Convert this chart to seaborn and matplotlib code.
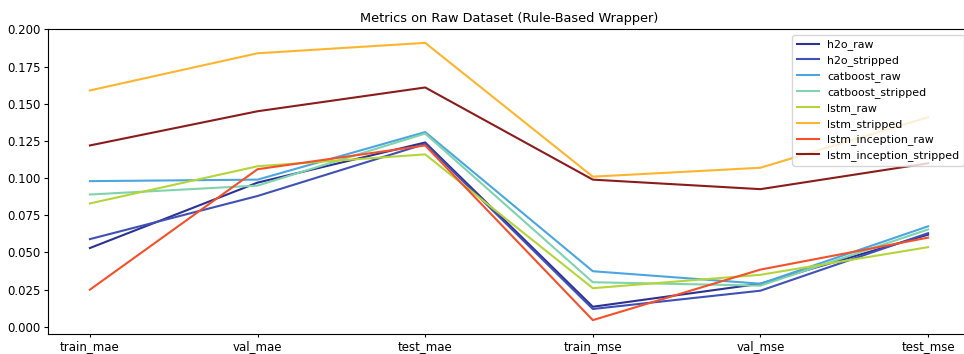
import matplotlib
matplotlib.use("Agg")
import matplotlib.pyplot as plt
import seaborn as sns
import pandas as pd

metrics = ["train_mae", "val_mae", "test_mae", "train_mse", "val_mse", "test_mse"]

h2o_raw = [0.053, 0.097, 0.124, 0.0135, 0.029, 0.062]
h2o_stripped = [0.059, 0.088, 0.123, 0.012, 0.0243, 0.063]
catboost_raw = [0.098, 0.099, 0.131, 0.0374, 0.029, 0.0676]
catboost_stripped = [0.089, 0.095, 0.130, 0.030, 0.0277, 0.0655]
lstm_raw = [0.083, 0.108, 0.116, 0.026, 0.035, 0.0536]
lstm_stripped = [0.159, 0.184, 0.191, 0.101, 0.107, 0.141]
lstm_inception_raw = [0.025, 0.106, 0.122, 0.0045, 0.0385, 0.060]
lstm_inception_stripped = [0.122, 0.145, 0.161, 0.099, 0.0926, 0.110]

models = {
    "h2o_raw": h2o_raw,
    "h2o_stripped": h2o_stripped,
    "catboost_raw": catboost_raw,
    "catboost_stripped": catboost_stripped,
    "lstm_raw": lstm_raw,
    "lstm_stripped": lstm_stripped,
    "lstm_inception_raw": lstm_inception_raw,
    "lstm_inception_stripped": lstm_inception_stripped,
}

colors = ["#2e3192", "#3f51b5", "#4ba6e0", "#7fd3ad", "#b4d53a",
          "#fdb42f", "#f4502a", "#8b1c1c"]

rows = []
for name, vals in models.items():
    for m, v in zip(metrics, vals):
        rows.append({"metric": m, "value": v, "model": name})
df = pd.DataFrame(rows)

plt.rcParams["font.family"] = ["DejaVu Sans"]
plt.rcParams["font.size"] = 8.5

fig = plt.figure(figsize=(9.64, 3.54), dpi=100)
ax = fig.add_axes([48 / 964, 1 - 334 / 354, 922 / 964, 305 / 354])

sns.lineplot(data=df, x="metric", y="value", hue="model",
             palette=colors, sort=False, linewidth=1.5, ax=ax)

ax.set_title("Metrics on Raw Dataset (Rule-Based Wrapper)", fontsize=9.3, pad=5)
ax.set_xlabel("")
ax.set_ylabel("")
ax.tick_params(axis="y", length=3, pad=2.5)
ax.tick_params(axis="x", length=2.5, pad=1.5)
ax.legend(loc="upper right", title=None, fontsize=7.9, labelspacing=0.45,
          borderaxespad=0.55)

fig.savefig("out.png", dpi=100)
